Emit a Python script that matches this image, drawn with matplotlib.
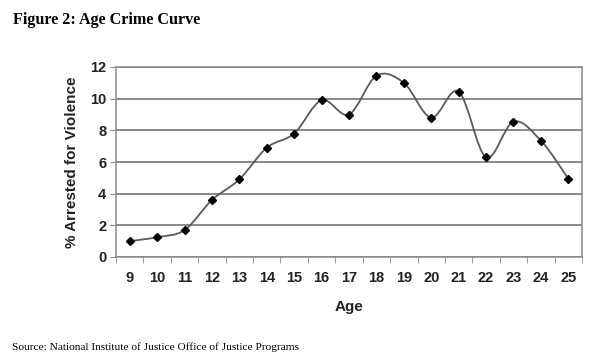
import numpy as np
import matplotlib.pyplot as plt
from matplotlib.path import Path
from matplotlib.patches import PathPatch

# values
ages = [9, 10, 11, 12, 13, 14, 15, 16, 17, 18, 19, 20, 21, 22, 23, 24, 25]
pct_arrested = [1.0, 1.25, 1.7, 3.6, 4.9, 6.9, 7.8, 9.9, 9.0, 11.45, 11.0,
                8.8, 10.45, 6.3, 8.55, 7.35, 4.95]
y_ticks = [0, 2, 4, 6, 8, 10, 12]

x = np.array(ages, dtype=float)
y = np.array(pct_arrested)

fig = plt.figure(figsize=(6.04, 3.61), dpi=100)
ax = fig.add_axes([116 / 604, 1 - 257 / 361, 466 / 604, 190 / 361])

# smoothed line like spreadsheet charts (cardinal bezier through the points)
verts = [(x[0], y[0])]
codes = [Path.MOVETO]
t = 1 / 6
for i in range(len(x) - 1):
    p0 = (x[max(i - 1, 0)], y[max(i - 1, 0)])
    p1 = (x[i], y[i])
    p2 = (x[i + 1], y[i + 1])
    p3 = (x[min(i + 2, len(x) - 1)], y[min(i + 2, len(x) - 1)])
    c1 = (p1[0] + (p2[0] - p0[0]) * t, p1[1] + (p2[1] - p0[1]) * t)
    c2 = (p2[0] - (p3[0] - p1[0]) * t, p2[1] - (p3[1] - p1[1]) * t)
    verts += [c1, c2, p2]
    codes += [Path.CURVE4] * 3
ax.add_patch(PathPatch(Path(verts, codes), fill=False, edgecolor="#5a5a5a",
                       lw=1.3, zorder=3))
ax.plot(x, y, linestyle="none", marker="D", markersize=3.8, color="black",
        zorder=4)

ax.set_xlim(8.5, 25.5)
ax.set_ylim(0, 12)
ax.set_yticks(y_ticks)
ax.yaxis.grid(True, color="#6a6a6a", lw=1.1)
ax.set_axisbelow(True)
for s in ax.spines.values():
    s.set_color("#8a8a8a")
    s.set_linewidth(1.1)

ax.set_xticks(x)
ax.set_xticks(np.arange(8.5, 26, 1), minor=True)
ax.tick_params(axis="x", which="major", length=0, pad=10)
ax.tick_params(axis="x", which="minor", length=4, color="#8a8a8a")
ax.tick_params(axis="y", length=4, color="#8a8a8a", pad=3)
for lab in ax.get_xticklabels() + ax.get_yticklabels():
    lab.set_fontfamily("Liberation Sans")
    lab.set_fontweight("bold")
    lab.set_fontsize(10.5)
    lab.set_color("#222222")
ax.set_xticklabels([str(a) for a in ages])

ax.set_xlabel("Age", fontfamily="Liberation Sans", fontweight="bold",
              fontsize=11, color="#222222", labelpad=11)
ax.set_ylabel("% Arrested for Violence", fontfamily="Liberation Sans",
              fontweight="bold", fontsize=11, color="#222222", labelpad=8)

fig.text(13 / 604, 1 - 20 / 361, "Figure 2: Age Crime Curve",
         fontfamily="Liberation Serif", fontweight="bold", fontsize=11.6,
         va="center")
fig.text(12 / 604, 1 - 347 / 361,
         "Source: National Institute of Justice Office of Justice Programs",
         fontfamily="Liberation Serif", fontsize=8.2, va="center")

fig.savefig("out.png", dpi=100)
